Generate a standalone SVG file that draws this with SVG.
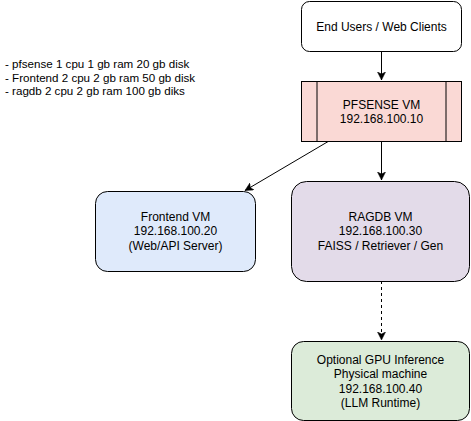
<svg xmlns="http://www.w3.org/2000/svg" width="471" height="421" viewBox="0 0 471 421">
<style>
.n{stroke:#000;stroke-width:1}
.t{font-family:"Liberation Sans",Arial,sans-serif;font-size:12px;fill:#000;text-anchor:middle}
.s{font-family:"Liberation Sans",Arial,sans-serif;font-size:11.6px;fill:#000}
.c{fill:none;stroke:#000;stroke-width:1}
</style>
<defs>
<marker id="a" markerWidth="10" markerHeight="10" refX="8" refY="4" orient="auto" markerUnits="userSpaceOnUse">
<path d="M0,0 L8,4 L0,8 L2,4 Z" fill="#000" stroke="#000" stroke-width="0.5"/>
</marker>
</defs>
<rect width="471" height="421" fill="#fff"/>
<g id="specs">
<text class="s" x="5" y="68">- pfsense 1 cpu 1 gb ram 20 gb disk</text>
<text class="s" x="5" y="81.5">- Frontend 2 cpu 2 gb ram 50 gb disk</text>
<text class="s" x="5" y="95">- ragdb 2 cpu 2 gb ram 100 gb diks</text>
</g>
<g id="connectors">
<line class="c" x1="381.5" y1="51" x2="381.5" y2="80" marker-end="url(#a)"/>
<line class="c" x1="381.5" y1="141" x2="381.5" y2="180" marker-end="url(#a)"/>
<line class="c" x1="329" y1="141" x2="245" y2="190.5" marker-end="url(#a)"/>
<line class="c" x1="381.5" y1="281" x2="381.5" y2="340" stroke-dasharray="3,3" marker-end="url(#a)"/>
</g>
<g id="users">
<rect class="n" x="301.5" y="1.5" width="160" height="50" rx="8" fill="#fff"/>
<text class="t" x="381.5" y="30.5">End Users / Web Clients</text>
</g>
<g id="pfsense">
<rect class="n" x="301.5" y="81.5" width="160" height="60" fill="#fad9d5"/>
<line class="n" x1="317" y1="81.5" x2="317" y2="141.5"/>
<line class="n" x1="446" y1="81.5" x2="446" y2="141.5"/>
<text class="t" x="381.5" y="108.5">PFSENSE VM</text>
<text class="t" x="381.5" y="122.5">192.168.100.10</text>
</g>
<g id="frontend">
<rect class="n" x="95.5" y="191.5" width="160" height="80" rx="12" fill="#dfeafb"/>
<text class="t" x="175.5" y="220.5">Frontend VM</text>
<text class="t" x="175.5" y="235">192.168.100.20</text>
<text class="t" x="175.5" y="249.5">(Web/API Server)</text>
</g>
<g id="ragdb">
<rect class="n" x="291.5" y="181.5" width="178" height="100" rx="15" fill="#e3dbe9"/>
<text class="t" x="380.5" y="220.5">RAGDB VM</text>
<text class="t" x="380.5" y="235">192.168.100.30</text>
<text class="t" x="380.5" y="249.5">FAISS / Retriever / Gen</text>
</g>
<g id="gpu">
<rect class="n" x="291.5" y="341.5" width="178" height="79" rx="12" fill="#dcebd9"/>
<text class="t" x="380.5" y="363.5">Optional GPU Inference</text>
<text class="t" x="380.5" y="378">Physical machine</text>
<text class="t" x="380.5" y="392.5">192.168.100.40</text>
<text class="t" x="380.5" y="407">(LLM Runtime)</text>
</g>
</svg>
